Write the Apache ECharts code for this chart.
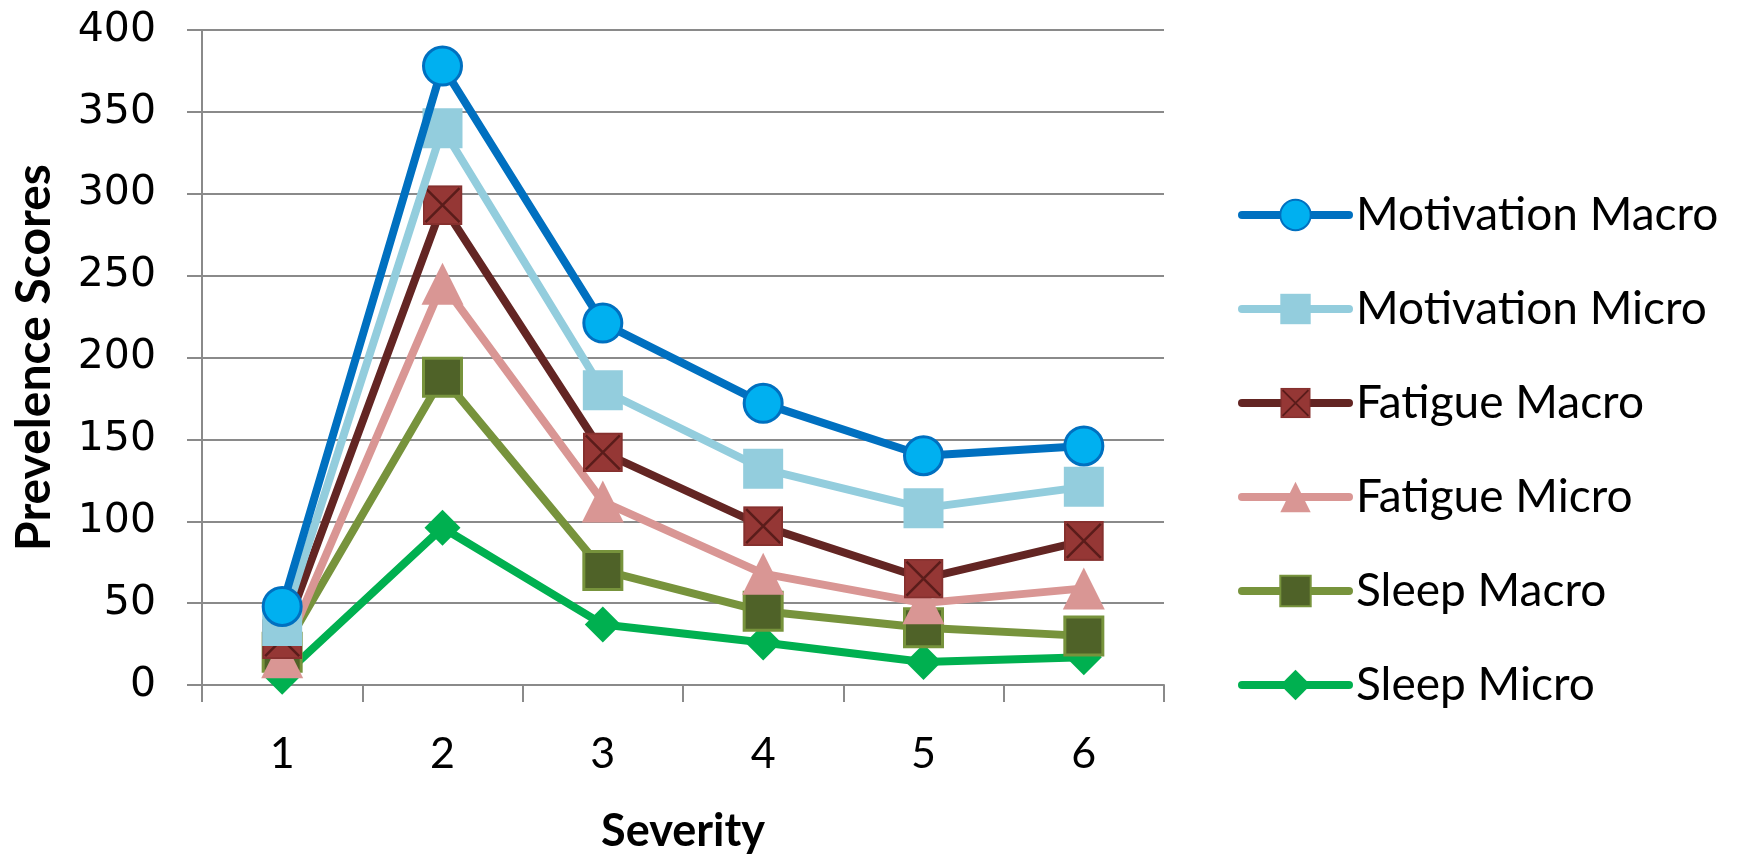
<!DOCTYPE html>
<html>
<head>
<meta charset="utf-8">
<script src="https://cdn.jsdelivr.net/npm/echarts@6/dist/echarts.min.js"></script>
<style>html,body{margin:0;padding:0;background:#fff;}#c{width:1750px;height:854px;}</style>
</head>
<body>
<div id="c"></div>
<script>
var categories = ['1', '2', '3', '4', '5', '6'];
var seriesNames = ['Motivation Macro', 'Motivation Micro', 'Fatigue Macro', 'Fatigue Micro', 'Sleep Macro', 'Sleep Micro'];
var motivationMacro = [48, 378, 221, 172, 140, 146];
var motivationMicro = [36, 340, 180, 132, 108, 121];
var fatigueMacro = [28, 293, 142, 97, 65, 88];
var fatigueMicro = [17, 245, 112, 68, 50, 59];
var sleepMacro = [20, 188, 70, 45, 35, 30];
var sleepMicro = [5, 96, 37, 26, 14, 17];
var yTicks = { min: 0, max: 400, interval: 50 };
var xTitle = 'Severity';
var yTitle = 'Prevelence Scores';

var xSvg = "<svg xmlns='http://www.w3.org/2000/svg' width='40' height='40' viewBox='0 0 40 40'>" +
  "<rect x='1' y='1' width='38' height='38' fill='#953735' stroke='#85302e' stroke-width='2'/>" +
  "<path d='M3 3L37 37M37 3L3 37' stroke='#5a1c1a' stroke-width='2.5'/></svg>";
var xSymbol = 'image://data:image/svg+xml;charset=utf-8,' + encodeURIComponent(xSvg);

var styles = [
  { data: motivationMacro, line: '#0070C0', symbol: 'circle', size: 38, fill: '#00B0F0', border: '#0070C0', bw: 3 },
  { data: motivationMicro, line: '#93CDDD', symbol: 'rect', size: 40, fill: '#93CDDD', border: '#93CDDD', bw: 0 },
  { data: fatigueMacro, line: '#632523', symbol: xSymbol, size: 40, fill: '#953735', border: '#953735', bw: 0 },
  { data: fatigueMicro, line: '#D99694', symbol: 'triangle', size: 42, fill: '#D99694', border: '#D99694', bw: 0 },
  { data: sleepMacro, line: '#77933C', symbol: 'rect', size: 38, fill: '#4F6228', border: '#77933C', bw: 3 },
  { data: sleepMicro, line: '#00B050', symbol: 'diamond', size: [36, 36], fill: '#00B050', border: '#00B050', bw: 0 }
];

var series = styles.map(function (s, i) {
  return {
    name: seriesNames[i],
    type: 'line',
    data: s.data,
    z: 20 - i,
    symbol: s.symbol,
    symbolSize: s.size,
    showAllSymbol: true,
    lineStyle: { color: s.line, width: 8 },
    itemStyle: { color: s.fill, borderColor: s.border, borderWidth: s.bw, opacity: 1 },
    emphasis: { disabled: true }
  };
});

var legendData = styles.map(function (s, i) {
  return { name: seriesNames[i], lineStyle: { color: s.line, width: 8, cap: 'round' } };
});

var chart = echarts.init(document.getElementById('c'));
chart.setOption({
  animation: false,
  backgroundColor: '#ffffff',
  grid: { left: 202, right: 586, top: 30, bottom: 169, containLabel: false, outerBoundsMode: 'none' },
  legend: {
    orient: 'vertical',
    left: 1233,
    top: 187,
    itemWidth: 107,
    itemHeight: 38,
    itemGap: 48,
    data: legendData,
    lineStyle: { width: 8 },
    textStyle: { fontFamily: 'Lato', fontSize: 46, color: '#000', padding: [0, 0, 0, 2] }
  },
  xAxis: {
    type: 'category',
    data: categories,
    boundaryGap: true,
    name: xTitle,
    nameLocation: 'middle',
    nameGap: 124,
    nameTextStyle: { fontFamily: 'Lato', fontWeight: 'bold', fontSize: 45, color: '#000' },
    axisLine: { lineStyle: { color: '#8a8a8a', width: 2 } },
    axisTick: { show: true, length: 17, lineStyle: { color: '#8a8a8a', width: 2 } },
    axisLabel: { fontFamily: 'Lato', fontSize: 43, color: '#000', margin: 48 }
  },
  yAxis: {
    type: 'value',
    min: yTicks.min,
    max: yTicks.max,
    interval: yTicks.interval,
    name: yTitle,
    nameLocation: 'middle',
    nameGap: 143,
    nameTextStyle: { fontFamily: 'Lato', fontWeight: 'bold', fontSize: 48, color: '#000' },
    axisLine: { show: true, lineStyle: { color: '#8a8a8a', width: 2 } },
    axisTick: { show: true, length: 15, lineStyle: { color: '#8a8a8a', width: 2 } },
    splitLine: { show: true, lineStyle: { color: '#8a8a8a', width: 2 } },
    axisLabel: { fontFamily: 'DejaVu Sans', fontSize: 41, color: '#000', margin: 46 }
  },
  series: series
});
</script>
</body>
</html>
